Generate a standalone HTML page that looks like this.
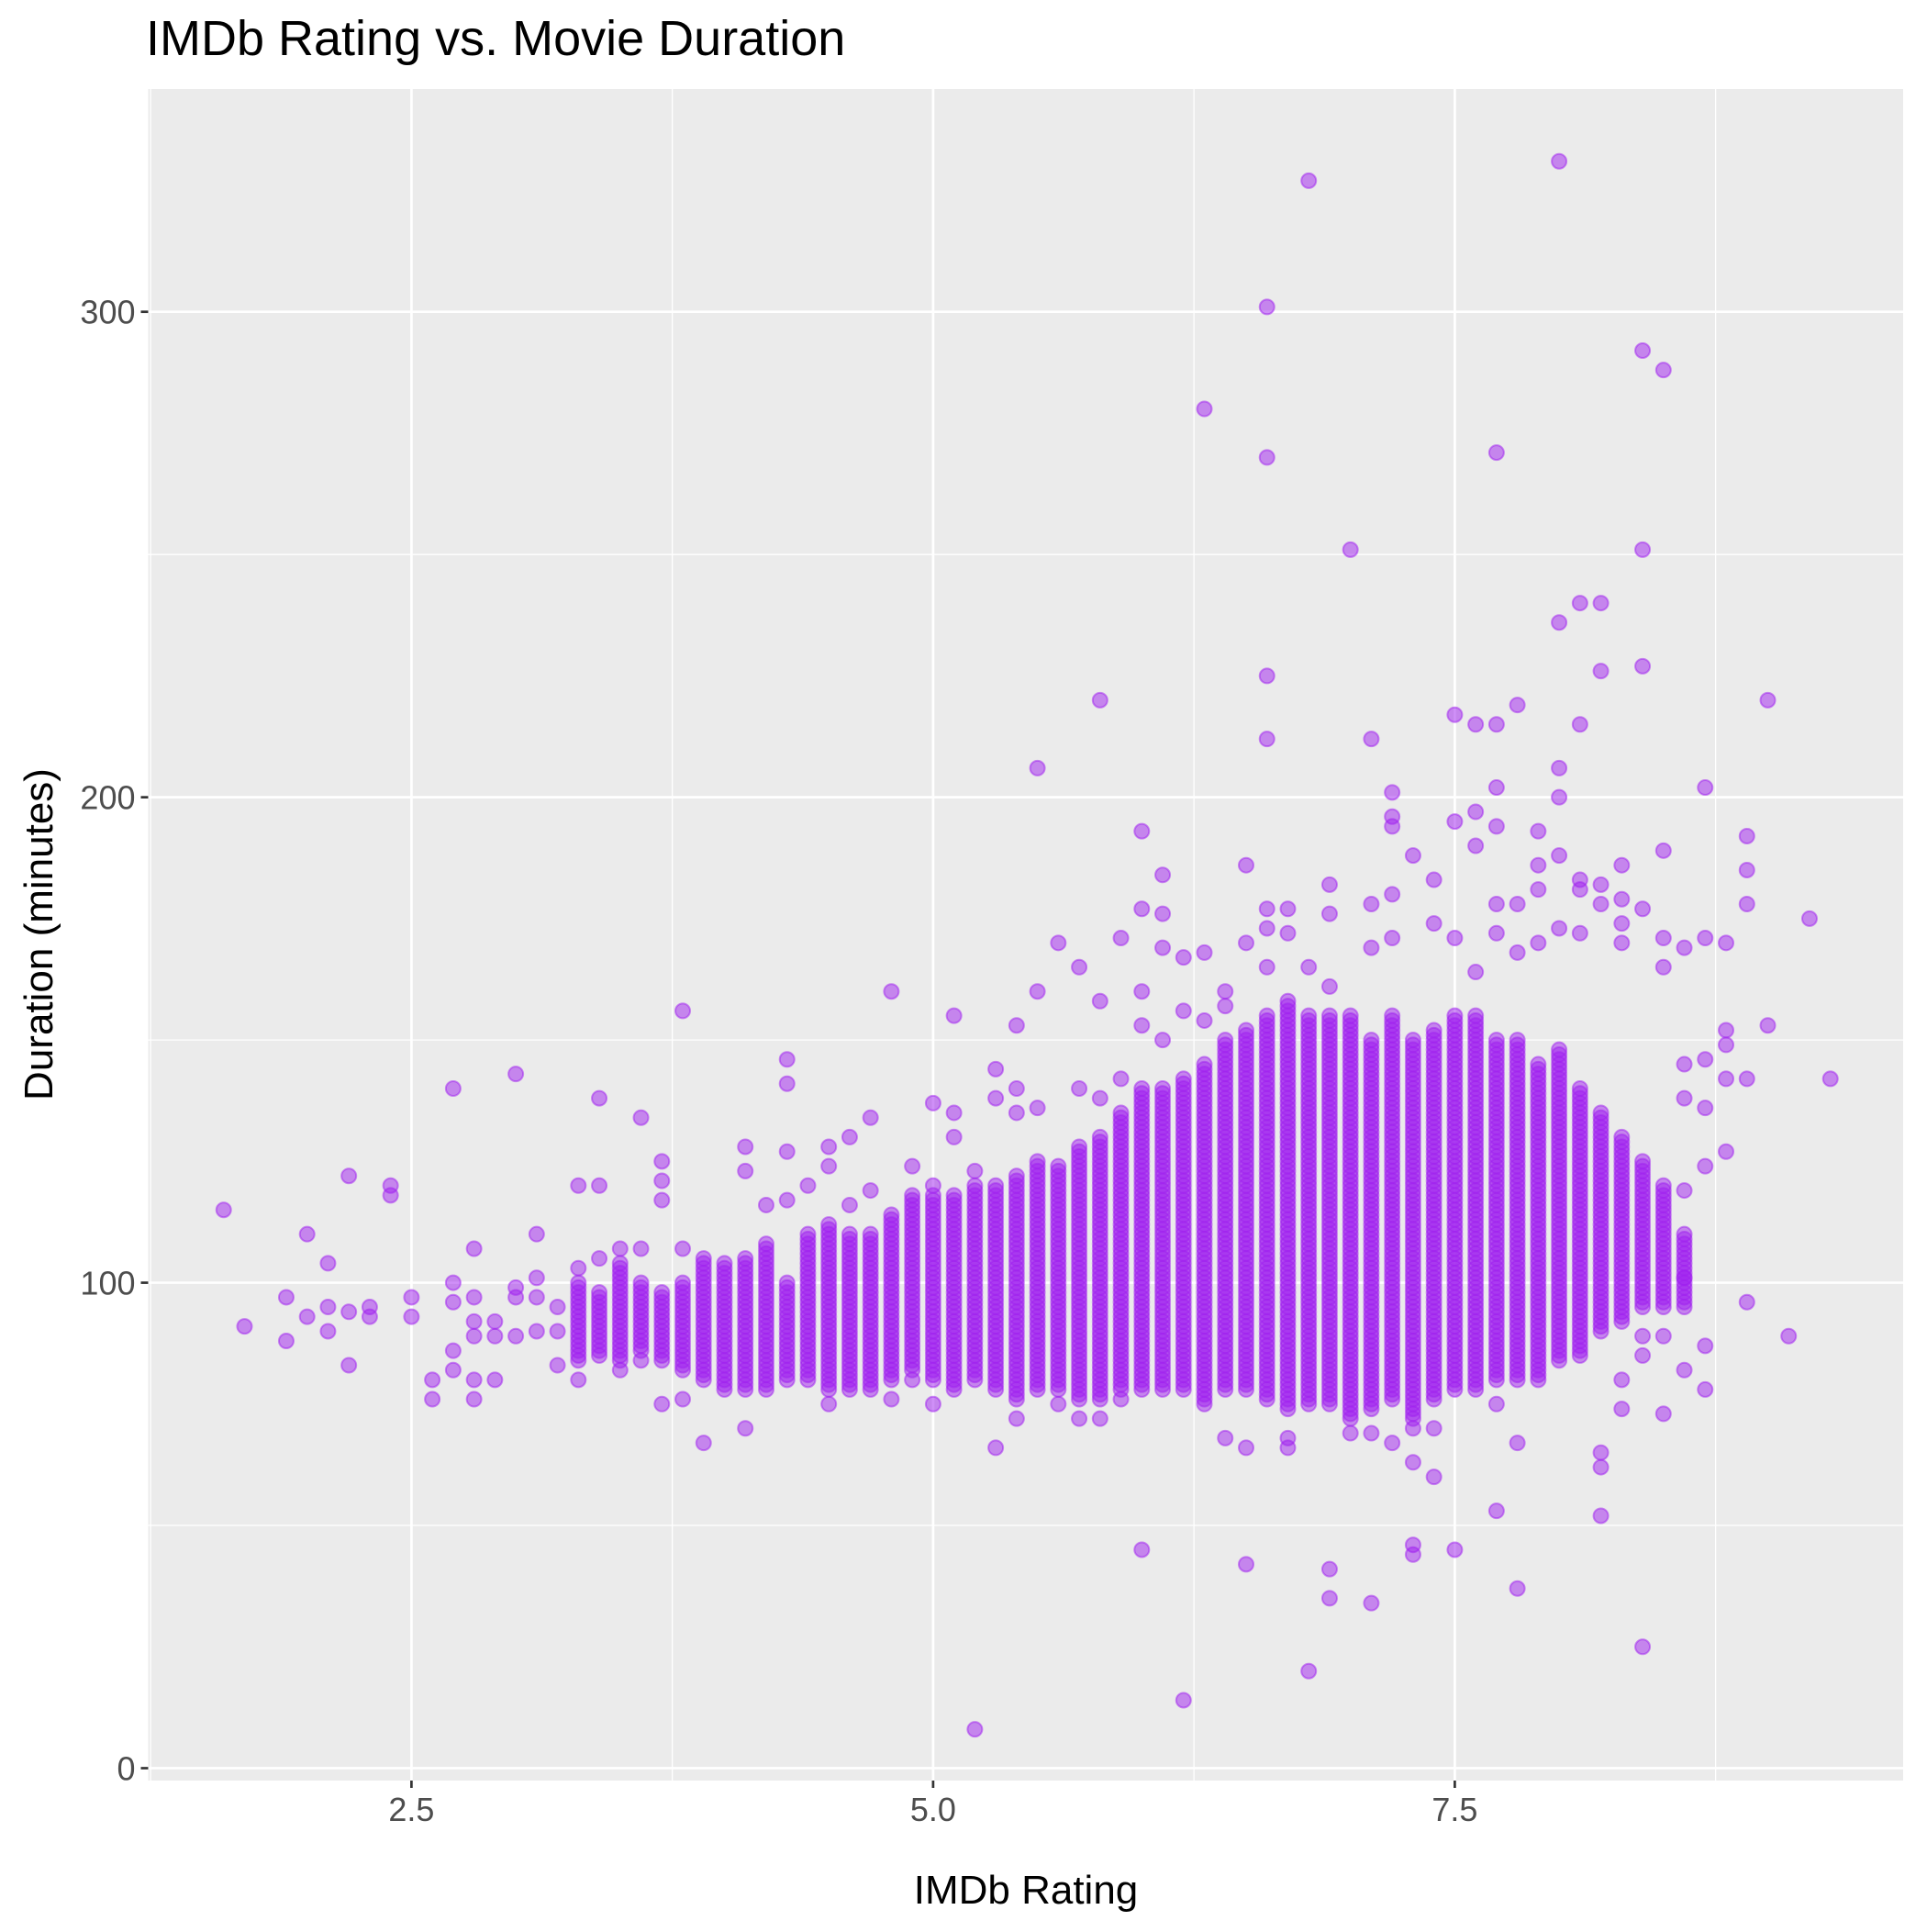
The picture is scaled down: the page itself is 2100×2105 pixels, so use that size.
<!DOCTYPE html>
<html><head><meta charset="utf-8"><style>
html,body{margin:0;padding:0;background:#fff}
svg text{font-family:"Liberation Sans",Arial,sans-serif}
</style></head><body>
<svg id="chart" width="2100" height="2100" viewBox="0 0 2100 2100">
<text x="159" y="60" font-size="54" fill="#000">IMDb Rating vs. Movie Duration</text>
<rect x="161.5" y="97" width="1912.5" height="1843" fill="#ebebeb"/>
<g id="grid"></g>
<g id="points"></g>
<g id="axes"></g>
<text x="1118" y="2074" font-size="44" text-anchor="middle" fill="#000">IMDb Rating</text>
<text transform="translate(57,1018) rotate(-90)" font-size="44" text-anchor="middle" fill="#000">Duration (minutes)</text>
</svg>
<script>
const xTicks = [2.5, 5.0, 7.5];
const xTickLabels = ["2.5", "5.0", "7.5"];
const xMinor = [1.25, 3.75, 6.25, 8.75];
const yTicks = [0, 100, 200, 300];
const yTickLabels = ["0", "100", "200", "300"];
const yMinor = [50, 150, 250];
// dense core columns: rating, low duration, high duration
const coreRatings = [3.3,3.4,3.5,3.6,3.7,3.8,3.9,4.0,4.1,4.2,4.3,4.4,4.5,4.6,4.7,4.8,4.9,5.0,5.1,5.2,5.3,5.4,5.5,5.6,5.7,5.8,5.9,6.0,6.1,6.2,6.3,6.4,6.5,6.6,6.7,6.8,6.9,7.0,7.1,7.2,7.3,7.4,7.5,7.6,7.7,7.8,7.9,8.0,8.1,8.2,8.3,8.4,8.5,8.6];
const coreLow = [84,86,84,86,84,82,80,78,78,78,80,80,78,78,78,80,82,80,78,80,78,76,78,78,76,76,78,78,78,78,76,78,78,76,74,76,76,72,74,76,72,76,78,78,80,80,80,84,85,90,92,95,95,95];
const coreHigh = [100,98,104,100,98,100,104,104,105,108,100,110,112,110,110,114,118,118,118,120,120,122,125,124,128,130,135,140,140,142,145,150,152,155,158,155,155,155,150,155,150,152,155,155,150,150,145,148,140,135,130,125,120,110];
// individual points
const outRating = [1.6,1.7,1.9,1.9,2.0,2.0,2.1,2.1,2.1,2.2,2.2,2.2,2.3,2.3,2.4,2.4,2.5,2.5,2.6,2.6,2.7,2.7,2.7,2.7,2.7,2.8,2.8,2.8,2.8,2.8,2.8,2.9,2.9,2.9,3.0,3.0,3.0,3.0,3.1,3.1,3.1,3.1,3.2,3.2,3.2,3.3,3.3,3.3,3.4,3.4,3.4,3.4,3.5,3.5,3.6,3.6,3.6,3.7,3.7,3.7,3.7,3.8,3.8,3.8,3.9,3.9,4.1,4.1,4.1,4.2,4.3,4.3,4.3,4.3,4.4,4.5,4.5,4.5,4.6,4.6,4.7,4.7,4.8,4.8,4.9,4.9,5.0,5.0,5.0,5.1,5.1,5.1,5.2,5.2,5.3,5.3,5.3,5.4,5.4,5.4,5.4,5.5,5.5,5.5,5.6,5.6,5.7,5.7,5.7,5.8,5.8,5.8,5.8,5.9,5.9,5.9,6.0,6.0,6.0,6.0,6.0,6.1,6.1,6.1,6.1,6.2,6.2,6.2,6.3,6.3,6.3,6.3,6.4,6.4,6.4,6.5,6.5,6.5,6.5,6.6,6.6,6.6,6.6,6.6,6.6,6.6,6.7,6.7,6.7,6.7,6.8,6.8,6.8,6.8,6.9,6.9,6.9,6.9,6.9,6.9,7.0,7.0,7.1,7.1,7.1,7.1,7.1,7.2,7.2,7.2,7.2,7.2,7.2,7.3,7.3,7.3,7.3,7.3,7.4,7.4,7.4,7.4,7.5,7.5,7.5,7.5,7.6,7.6,7.6,7.6,7.7,7.7,7.7,7.7,7.7,7.7,7.7,7.7,7.8,7.8,7.8,7.8,7.8,7.9,7.9,7.9,7.9,8.0,8.0,8.0,8.0,8.0,8.0,8.1,8.1,8.1,8.1,8.1,8.2,8.2,8.2,8.2,8.2,8.2,8.2,8.3,8.3,8.3,8.3,8.3,8.3,8.4,8.4,8.4,8.4,8.4,8.4,8.4,8.5,8.5,8.5,8.5,8.5,8.5,8.6,8.6,8.6,8.6,8.6,8.6,8.7,8.7,8.7,8.7,8.7,8.7,8.7,8.8,8.8,8.8,8.8,8.8,8.9,8.9,8.9,8.9,8.9,9.0,9.0,9.1,9.2,9.3];
const outDuration = [115,91,97,88,110,93,104,95,90,122,94,83,95,93,120,118,97,93,80,76,140,100,96,86,82,107,97,92,89,80,76,92,89,80,143,99,97,89,110,101,97,90,95,90,83,120,103,80,138,120,105,85,107,82,134,107,84,125,121,117,75,156,107,76,67,105,128,123,70,116,146,141,127,117,120,128,124,75,130,116,134,119,160,76,124,80,137,120,75,155,135,130,8,123,144,138,66,153,140,135,72,206,160,136,170,75,165,140,72,220,158,138,72,171,142,76,193,177,160,153,45,184,176,169,150,14,167,156,280,168,154,75,160,157,68,186,170,42,66,301,270,225,212,177,173,165,177,172,66,68,327,20,165,75,182,176,161,41,35,75,251,69,212,178,169,34,69,201,196,194,180,171,67,188,46,44,63,70,183,174,70,60,217,195,171,45,215,197,190,164,271,215,202,194,178,172,53,75,219,178,168,37,67,193,186,181,170,331,236,206,200,188,173,240,215,183,172,181,240,226,182,178,52,65,62,186,179,174,170,80,74,292,251,227,177,25,85,89,288,189,171,165,73,89,169,145,138,119,101,82,202,171,146,136,124,78,87,170,152,149,142,127,192,185,178,142,96,220,153,89,175,142];

const NS = "http://www.w3.org/2000/svg";
const PL = 161.5, PR = 2074, PT = 97, PB = 1940;
function xs(v){ return 448.4 + (v - 2.5) * 227.4; }
function ys(v){ return 1926.5 - v * 5.2893; }
function mk(tag, attrs, parent){
  const e = document.createElementNS(NS, tag);
  for (const k in attrs) e.setAttribute(k, attrs[k]);
  parent.appendChild(e); return e;
}
const grid = document.getElementById('grid');
const axes = document.getElementById('axes');
const pts = document.getElementById('points');
xMinor.forEach(v => {
  const l = mk('line', {x1:xs(v), x2:xs(v), y1:PT, y2:PB, stroke:'#fff', 'stroke-width':1.3}, grid);
  
  
});
yMinor.forEach(v => {
  const l = mk('line', {x1:PL, x2:PR, y1:ys(v), y2:ys(v), stroke:'#fff', 'stroke-width':1.3}, grid);
  
  
});
xTicks.forEach((v, i) => {
  const l = mk('line', {x1:xs(v), x2:xs(v), y1:PT, y2:PB, stroke:'#fff', 'stroke-width':2.7}, grid);
  
  
  const t = mk('line', {x1:xs(v), x2:xs(v), y1:PB, y2:PB+8, stroke:'#333', 'stroke-width':2.7}, axes);
  
  
  const tx = mk('text', {x:xs(v), y:PB+44, 'font-size':36, 'text-anchor':'middle', fill:'#4d4d4d'}, axes);
  tx.textContent = xTickLabels[i];
  
  
});
yTicks.forEach((v, i) => {
  const l = mk('line', {x1:PL, x2:PR, y1:ys(v), y2:ys(v), stroke:'#fff', 'stroke-width':2.7}, grid);
  
  
  const t = mk('line', {x1:PL-8, x2:PL, y1:ys(v), y2:ys(v), stroke:'#333', 'stroke-width':2.7}, axes);
  
  
  const tx = mk('text', {x:PL-14, y:ys(v)+13, 'font-size':36, 'text-anchor':'end', fill:'#4d4d4d'}, axes);
  tx.textContent = yTickLabels[i];
  
  
});
function dot(r, d){
  const c = mk('circle', {cx:xs(r), cy:ys(d), r:8, fill:'#A020F0', 'fill-opacity':0.5, stroke:'#A020F0', 'stroke-opacity':0.5, 'stroke-width':2}, pts);
  
  
}
coreRatings.forEach((r, i) => {
  for (let d = coreLow[i]; d <= coreHigh[i]; d += 1) dot(r, d);
});
outRating.forEach((r, i) => dot(r, outDuration[i]));
</script>
</body></html>
